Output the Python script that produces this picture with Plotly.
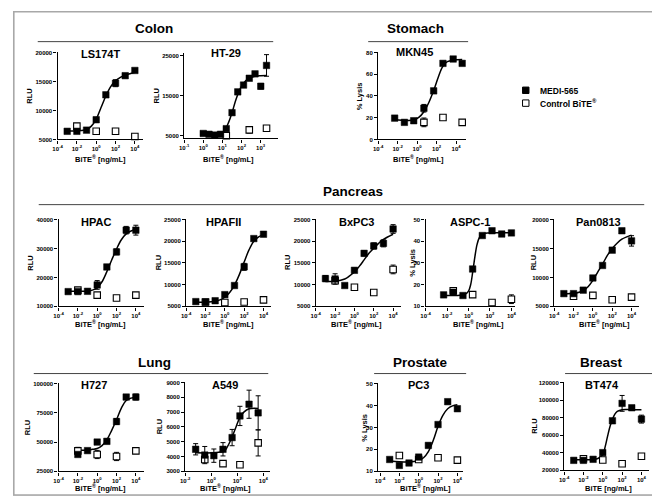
import plotly.graph_objects as go

# ================= DATA =================
# concentrations in ng/mL, responses in RLU or % lysis

ls174t_medi_x = [0.001, 0.01, 0.1, 1, 10, 100, 1000, 10000]
ls174t_medi_y = [6400, 6400, 6600, 8400, 12700, 14700, 16000, 16900]
ls174t_medi_err = [0, 0, 0, 400, 400, 600, 0, 0]
ls174t_ctrl_x = [0.01, 1, 100, 10000]
ls174t_ctrl_y = [7300, 6400, 6400, 5500]
ls174t_ctrl_err = [0, 0, 0, 0]
ls174t_fit_x = [0.001, 0.01, 0.1, 0.316, 1, 3.16, 10, 31.6, 100, 316, 1000, 10000]
ls174t_fit_y = [6450, 6480, 6700, 7300, 8500, 10500, 12500, 14100, 15100, 15700, 16100, 16600]

ht29_medi_x = [1, 2, 4, 8, 16, 32, 64, 128, 256, 512, 1024, 2048]
ht29_medi_y = [5500, 5300, 5100, 5300, 6700, 10700, 15900, 17600, 19300, 20400, 17300, 22500]
ht29_medi_err = [300, 0, 300, 0, 300, 0, 0, 0, 0, 0, 700, 2700]
ht29_ctrl_x = [16, 256, 2048]
ht29_ctrl_y = [4950, 6400, 6800]
ht29_ctrl_err = [0, 800, 0]
ht29_fit_x = [1, 3.2, 8, 12.6, 20, 32, 50, 80, 126, 250, 500, 1000, 2048]
ht29_fit_y = [5300, 5300, 5450, 6100, 8000, 10700, 13800, 16400, 18000, 19300, 19800, 19950, 20000]

mkn45_medi_x = [0.005, 0.05, 0.45, 5, 50, 450, 5000, 42000]
mkn45_medi_y = [19.6, 15.7, 17.2, 28.7, 44.7, 70, 74, 70]
mkn45_medi_err = [0, 0, 0, 3.5, 0, 0, 0, 0]
mkn45_ctrl_x = [5, 450, 42000]
mkn45_ctrl_y = [15.7, 20.2, 15.7]
mkn45_ctrl_err = [4, 0, 0]
mkn45_fit_x = [0.005, 0.1, 0.5, 1.6, 5, 16, 50, 145, 420, 1260, 5000, 42000]
mkn45_fit_y = [18, 17.5, 18, 20.5, 25.5, 34, 45, 57, 67, 71.5, 73, 73.5]

hpac_medi_x = [0.001, 0.01, 0.1, 1, 10, 100, 1000, 10000]
hpac_medi_y = [15100, 15100, 15200, 17400, 23600, 28800, 36300, 36300]
hpac_medi_err = [0, 700, 0, 1500, 0, 1000, 1300, 1700]
hpac_ctrl_x = [0.01, 1, 100, 10000]
hpac_ctrl_y = [15600, 13900, 12900, 13900]
hpac_ctrl_err = [0, 0, 0, 0]
hpac_fit_x = [0.001, 0.01, 0.1, 0.316, 1, 3.16, 10, 31.6, 100, 316, 1000, 3160, 10000]
hpac_fit_y = [15200, 15200, 15300, 15600, 16500, 18500, 22000, 26000, 29800, 33000, 35000, 36000, 36500]

hpafii_medi_x = [0.001, 0.01, 0.1, 1, 10, 100, 1000, 10000]
hpafii_medi_y = [6100, 6000, 6300, 7700, 9800, 14100, 20600, 21600]
hpafii_medi_err = [0, 0, 0, 0, 0, 800, 0, 0]
hpafii_ctrl_x = [0.01, 1, 100, 10000]
hpafii_ctrl_y = [6000, 5900, 6000, 6500]
hpafii_ctrl_err = [0, 0, 0, 0]
hpafii_fit_x = [0.001, 0.01, 0.1, 0.316, 1, 3.16, 10, 31.6, 100, 316, 1000, 3160, 10000]
hpafii_fit_y = [5950, 6000, 6200, 6500, 7100, 8200, 9900, 12300, 15200, 18000, 20000, 21000, 21500]

bxpc3_medi_x = [0.001, 0.01, 0.1, 1, 10, 100, 1000, 10000]
bxpc3_medi_y = [11400, 11300, 9800, 13300, 17200, 18900, 19500, 22800]
bxpc3_medi_err = [700, 1200, 0, 0, 600, 700, 800, 1000]
bxpc3_ctrl_x = [0.01, 1, 100, 10000]
bxpc3_ctrl_y = [10900, 9400, 8200, 13500]
bxpc3_ctrl_err = [0, 0, 0, 1000]
bxpc3_fit_x = [0.001, 0.01, 0.1, 0.316, 1, 3.16, 10, 31.6, 100, 316, 1000, 10000]
bxpc3_fit_y = [10700, 10800, 11300, 12000, 12900, 14200, 15700, 17200, 18400, 19500, 20400, 21600]

aspc1_medi_x = [0.0048, 0.038, 0.305, 2.44, 19.5, 156, 1250, 10000]
aspc1_medi_y = [15.3, 16.5, 15.0, 27.2, 42.6, 44.8, 43.3, 43.8]
aspc1_medi_err = [0, 1.3, 0, 0, 0, 0, 1.0, 0]
aspc1_ctrl_x = [0.038, 2.44, 156, 10000]
aspc1_ctrl_y = [17.2, 15.4, 11.8, 13.3]
aspc1_ctrl_err = [1, 0, 1, 2]
aspc1_fit_x = [0.0048, 0.03, 0.16, 0.5, 1, 1.6, 2.5, 4, 6.3, 10, 20, 63, 300, 10000]
aspc1_fit_y = [15.0, 15.0, 15.1, 15.6, 17, 20, 26, 33, 38.5, 41.5, 43.2, 43.8, 43.9, 43.9]

pan0813_medi_x = [0.001, 0.01, 0.1, 1, 10, 100, 1000, 10000]
pan0813_medi_y = [7200, 7200, 7800, 9900, 12060, 14700, 18050, 16300]
pan0813_medi_err = [0, 0, 0, 0, 0, 0, 0, 900]
pan0813_ctrl_x = [0.01, 1, 100, 10000]
pan0813_ctrl_y = [6750, 6900, 6150, 6600]
pan0813_ctrl_err = [0, 0, 0, 0]
pan0813_fit_x = [0.001, 0.01, 0.1, 0.316, 1, 3.16, 10, 31.6, 100, 316, 1000, 3160, 10000]
pan0813_fit_y = [7200, 7250, 7700, 8400, 9500, 10900, 12300, 13800, 15000, 15900, 16600, 17000, 17300]

h727_medi_x = [0.01, 0.1, 1, 10, 100, 1000, 10000]
h727_medi_y = [39400, 42700, 50000, 50600, 67500, 88400, 88400]
h727_medi_err = [0, 0, 0, 2000, 2500, 0, 2500]
h727_ctrl_x = [0.01, 1, 100, 10000]
h727_ctrl_y = [42500, 39400, 37700, 42500]
h727_ctrl_err = [3000, 3500, 3500, 1000]
h727_fit_x = [0.01, 0.1, 0.316, 1, 3.16, 10, 31.6, 100, 316, 1000, 3160, 10000]
h727_fit_y = [43000, 43300, 43800, 44500, 47000, 52000, 60000, 69000, 79000, 85500, 87500, 88300]

a549_medi_x = [0.064, 0.32, 1.6, 8, 40, 160, 800, 4000]
a549_medi_y = [4490, 4100, 4060, 4490, 5280, 6740, 7530, 6950]
a549_medi_err = [380, 580, 450, 450, 550, 650, 950, 1150]
a549_ctrl_x = [0.32, 8, 160, 4000]
a549_ctrl_y = [3800, 3520, 3450, 4920]
a549_ctrl_err = [150, 0, 0, 880]
a549_fit_x = [0.064, 0.32, 1.6, 5, 10, 16, 35, 80, 160, 320, 800, 4000]
a549_fit_y = [4250, 4240, 4250, 4300, 4350, 4600, 5200, 6000, 6650, 7000, 7220, 7250]

pc3_medi_x = [0.001, 0.01, 0.1, 1, 10, 100, 1000, 10000]
pc3_medi_y = [15.4, 12.7, 13.8, 16.5, 21.8, 31.3, 41.7, 38.5]
pc3_medi_err = [0, 0, 0, 0, 1, 0, 0, 0]
pc3_ctrl_x = [0.01, 1, 100, 10000]
pc3_ctrl_y = [17.2, 15.4, 16.2, 15.1]
pc3_ctrl_err = [0, 0, 1, 0]
pc3_fit_x = [0.001, 0.01, 0.1, 0.316, 1, 3.16, 10, 31.6, 100, 316, 1000, 3160, 10000]
pc3_fit_y = [14.7, 14.4, 14.3, 14.5, 15, 16.2, 19, 24, 30.5, 35.5, 38.5, 39.8, 40.3]

bt474_medi_x = [0.001, 0.01, 0.1, 1, 10, 100, 1000, 10000]
bt474_medi_y = [31400, 31400, 32600, 40200, 76400, 96200, 91200, 78300]
bt474_medi_err = [0, 1000, 0, 1500, 0, 9000, 0, 4500]
bt474_ctrl_x = [0.01, 1, 100, 10000]
bt474_ctrl_y = [33300, 31800, 27600, 36000]
bt474_ctrl_err = [0, 0, 0, 0]
bt474_fit_x = [0.001, 0.01, 0.1, 0.316, 1, 1.78, 3.16, 5.6, 10, 17.8, 31.6, 100, 1000, 10000]
bt474_fit_y = [32000, 32000, 32300, 33500, 38000, 47000, 59000, 70000, 78000, 84000, 87000, 89000, 89000, 89000]

# tick labels
std_xticks = [1e-4, 1e-2, 1, 1e2, 1e4]
std_xtext = ["10<sup>-4</sup>", "10<sup>-2</sup>", "10<sup>0</sup>", "10<sup>2</sup>", "10<sup>4</sup>"]
ht29_xticks = [0.1, 1, 10, 100, 1000, 10000]
ht29_xtext = ["10<sup>-1</sup>", "10<sup>0</sup>", "10<sup>1</sup>", "10<sup>2</sup>", "10<sup>3</sup>", "10<sup>4</sup>"]
a549_xticks = [1e-2, 1, 1e2, 1e4]
a549_xtext = ["10<sup>-2</sup>", "10<sup>0</sup>", "10<sup>2</sup>", "10<sup>4</sup>"]

section_titles = ["Colon", "Stomach", "Pancreas", "Lung", "Prostate", "Breast"]
legend_labels = ["MEDI-565", "Control BiTE<sup>®</sup>"]

# ================= LAYOUT SPECS (pixels) =================
W, H = 660, 496
FONT = "Liberation Sans, Arial, sans-serif"
BITE = "BiTE<sup>®</sup> [ng/mL]"

panels = [
    dict(name="LS174T", d="ls174t", box=(45, 131, 42, 130), xr=(-4, 4.8), yr=(5000, 20000),
         yt=[5000, 10000, 15000, 20000], xt=(std_xticks, std_xtext), ylab="RLU", ylx=17,
         tpos=(88, 44), xlab=BITE, xlpos=(88, 150)),
    dict(name="HT-29", d="ht29", box=(173, 268, 43, 129), xr=(-1, 3.92), yr=(4260, 25490),
         yt=[5000, 15000, 25000], xt=(ht29_xticks, ht29_xtext), ylab="RLU", ylx=146,
         tpos=(215, 43), xlab=BITE, xlpos=(218, 150)),
    dict(name="MKN45", d="mkn45", box=(369, 458, 42, 130), xr=(-4, 5.03), yr=(0, 80),
         yt=[0, 20, 40, 60, 80], xt=(std_xticks, std_xtext), ylab="% Lysis", ylx=351,
         tpos=(406, 42), xlab=BITE, xlpos=(410, 150)),
    dict(name="HPAC", d="hpac", box=(46, 132, 211, 299), xr=(-4, 4.8), yr=(10000, 40000),
         yt=[10000, 20000, 30000, 40000], xt=(std_xticks, std_xtext), ylab="RLU", ylx=18,
         tpos=(84, 214), xlab=BITE, xlpos=(88, 317)),
    dict(name="HPAFII", d="hpafii", box=(175, 261, 211, 299), xr=(-4, 4.8), yr=(5000, 25000),
         yt=[5000, 10000, 15000, 20000, 25000], xt=(std_xticks, std_xtext), ylab="RLU", ylx=147,
         tpos=(213, 214), xlab=BITE, xlpos=(218, 317)),
    dict(name="BxPC3", d="bxpc3", box=(306, 392, 211, 299), xr=(-4, 4.8), yr=(5000, 25000),
         yt=[5000, 10000, 15000, 20000, 25000], xt=(std_xticks, std_xtext), ylab="RLU", ylx=278,
         tpos=(347, 214), xlab=BITE, xlpos=(347, 317)),
    dict(name="ASPC-1", d="aspc1", box=(417, 507, 211, 299), xr=(-4, 4.3), yr=(10, 50),
         yt=[10, 20, 30, 40, 50], xt=(std_xticks, std_xtext), ylab="% Lysis", ylx=404,
         tpos=(462, 214), xlab=BITE, xlpos=(470, 317)),
    dict(name="Pan0813", d="pan0813", box=(547, 633, 211, 299), xr=(-4, 4.8), yr=(5000, 20000),
         yt=[5000, 10000, 15000, 20000], xt=(std_xticks, std_xtext), ylab="RLU", ylx=527,
         tpos=(592, 214), xlab=BITE, xlpos=(598, 317)),
    dict(name="H727", d="h727", box=(46, 132, 377, 466), xr=(-4, 4.8), yr=(25000, 100000),
         yt=[25000, 50000, 75000, 100000], xt=(std_xticks, std_xtext), ylab="RLU", ylx=15,
         tpos=(82, 379), xlab=BITE, xlpos=(88, 483)),
    dict(name="A549", d="a549", box=(174, 260, 376, 466), xr=(-2, 4.53), yr=(3000, 9000),
         yt=[3000, 4000, 5000, 6000, 7000, 8000, 9000], xt=(a549_xticks, a549_xtext), ylab="RLU", ylx=148,
         tpos=(214, 379), xlab=BITE, xlpos=(215, 483)),
    dict(name="PC3", d="pc3", box=(369, 455, 377, 466), xr=(-4.2, 4.6), yr=(10, 50),
         yt=[10, 20, 30, 40, 50], xt=(std_xticks, std_xtext), ylab="% Lysis", ylx=355,
         tpos=(410, 379), xlab=BITE, xlpos=(417, 483)),
    dict(name="BT474", d="bt474", box=(557, 643, 376, 465), xr=(-4, 4.8), yr=(20000, 120000),
         yt=[20000, 40000, 60000, 80000, 100000, 120000], xt=(std_xticks, std_xtext), ylab="RLU", ylx=527,
         tpos=(595, 379), xlab="BiTE [ng/mL]", xlpos=(602, 483)),
]

sections = [  # title, title centre (x,y), underline x0, x1, y
    (section_titles[0], (143, 18), 25, 263, 31),
    (section_titles[1], (407, 18), 359, 460, 31),
    (section_titles[2], (344, 183), 26, 638, 196),
    (section_titles[3], (143, 356), 21, 258, 367),
    (section_titles[4], (412, 356), 365, 458, 367),
    (section_titles[5], (595, 356), 558, 648, 367),
]

G = globals()


def fx(p):
    return p / W


def fy(p):
    return 1 - p / H


fig = go.Figure()
annotations = []
shapes = []

for i, p in enumerate(panels, start=1):
    d = p["d"]
    xa = "x" if i == 1 else f"x{i}"
    ya = "y" if i == 1 else f"y{i}"
    # fitted curve
    fig.add_trace(go.Scatter(
        x=G[d + "_fit_x"], y=G[d + "_fit_y"], mode="lines", xaxis=xa, yaxis=ya,
        line=dict(color="black", width=1.5, shape="spline", smoothing=1.0),
        hoverinfo="skip", showlegend=False))
    # control BiTE (open squares)
    fig.add_trace(go.Scatter(
        x=G[d + "_ctrl_x"], y=G[d + "_ctrl_y"], mode="markers", xaxis=xa, yaxis=ya,
        marker=dict(symbol="square", size=6.5, color="white", line=dict(color="black", width=1.1)),
        error_y=dict(type="data", array=G[d + "_ctrl_err"], color="black", thickness=1, width=2.5),
        cliponaxis=False, showlegend=False, name=legend_labels[1]))
    # MEDI-565 (filled squares)
    fig.add_trace(go.Scatter(
        x=G[d + "_medi_x"], y=G[d + "_medi_y"], mode="markers", xaxis=xa, yaxis=ya,
        marker=dict(symbol="square", size=6.5, color="black", line=dict(color="black", width=0.5)),
        error_y=dict(type="data", array=G[d + "_medi_err"], color="black", thickness=1, width=2.5),
        cliponaxis=False, showlegend=False, name=legend_labels[0]))

    L, R, T, B = p["box"]
    key_x = "xaxis" if i == 1 else f"xaxis{i}"
    key_y = "yaxis" if i == 1 else f"yaxis{i}"
    fig.layout[key_x] = dict(
        type="log", range=list(p["xr"]), domain=[fx(L), fx(R)], anchor=ya,
        showline=True, linecolor="black", linewidth=1.3, ticks="outside", ticklen=3,
        tickwidth=1, tickcolor="black", showgrid=False, zeroline=False,
        tickvals=p["xt"][0], ticktext=p["xt"][1],
        tickfont=dict(family=FONT, size=6, color="black", weight="bold"))
    fig.layout[key_y] = dict(
        range=list(p["yr"]), domain=[fy(B), fy(T)], anchor=xa,
        showline=True, linecolor="black", linewidth=1.3, ticks="outside", ticklen=3,
        tickwidth=1, tickcolor="black", showgrid=False, zeroline=False,
        tickvals=p["yt"], ticktext=[str(v) for v in p["yt"]],
        tickfont=dict(family=FONT, size=6, color="black", weight="bold"))

    # panel title
    annotations.append(dict(text="<b>" + p["name"] + "</b>", x=fx(p["tpos"][0]), y=fy(p["tpos"][1]),
                            xref="paper", yref="paper", showarrow=False, xanchor="center", yanchor="middle",
                            font=dict(family=FONT, size=11, color="black")))
    # y-axis title
    annotations.append(dict(text="<b>" + p["ylab"] + "</b>", x=fx(p["ylx"]), y=fy((T + B) / 2),
                            xref="paper", yref="paper", showarrow=False, textangle=-90,
                            xanchor="center", yanchor="middle",
                            font=dict(family=FONT, size=7.5, color="black")))
    # x-axis title
    annotations.append(dict(text="<b>" + p["xlab"] + "</b>", x=fx(p["xlpos"][0]), y=fy(p["xlpos"][1]),
                            xref="paper", yref="paper", showarrow=False, xanchor="center", yanchor="middle",
                            font=dict(family=FONT, size=7.5, color="black")))

for title, (tx, ty), x0, x1, yl in sections:
    annotations.append(dict(text="<b>" + title + "</b>", x=fx(tx), y=fy(ty), xref="paper", yref="paper",
                            showarrow=False, xanchor="center", yanchor="middle",
                            font=dict(family=FONT, size=13.5, color="black")))
    shapes.append(dict(type="line", xref="paper", yref="paper", x0=fx(x0), x1=fx(x1), y0=fy(yl), y1=fy(yl),
                       line=dict(color="#444444", width=1)))

# legend (manual)
shapes.append(dict(type="rect", xref="paper", yref="paper", x0=fx(515), x1=fx(521.5), y0=fy(83.5), y1=fy(77),
                   fillcolor="black", line=dict(color="black", width=1)))
shapes.append(dict(type="rect", xref="paper", yref="paper", x0=fx(515), x1=fx(521.5), y0=fy(96.5), y1=fy(90),
                   fillcolor="white", line=dict(color="black", width=1)))
annotations.append(dict(text="<b>" + legend_labels[0] + "</b>", x=fx(531), y=fy(80.5), xref="paper", yref="paper",
                        showarrow=False, xanchor="left", yanchor="middle",
                        font=dict(family=FONT, size=8.5, color="black")))
annotations.append(dict(text="<b>" + legend_labels[1] + "</b>", x=fx(531), y=fy(93.5), xref="paper", yref="paper",
                        showarrow=False, xanchor="left", yanchor="middle",
                        font=dict(family=FONT, size=8.5, color="black")))

# outer frame
shapes.append(dict(type="rect", xref="paper", yref="paper", x0=fx(654), x1=1, y0=0, y1=1,
                   fillcolor="#d4d4d4", line=dict(width=0), layer="below"))
shapes.append(dict(type="rect", xref="paper", yref="paper", x0=0, x1=1, y0=0, y1=fy(490),
                   fillcolor="#d4d4d4", line=dict(width=0), layer="below"))
shapes.append(dict(type="rect", xref="paper", yref="paper", x0=fx(0.8), x1=fx(654), y0=fy(490), y1=fy(0.8),
                   fillcolor="rgba(0,0,0,0)", line=dict(color="#a8a8a8", width=1.6)))

fig.update_layout(
    width=W, height=H, margin=dict(l=0, r=0, t=0, b=0),
    paper_bgcolor="white", plot_bgcolor="rgba(0,0,0,0)",
    showlegend=False, annotations=annotations, shapes=shapes,
    font=dict(family=FONT, color="black"),
)

fig.write_html("out.html")
